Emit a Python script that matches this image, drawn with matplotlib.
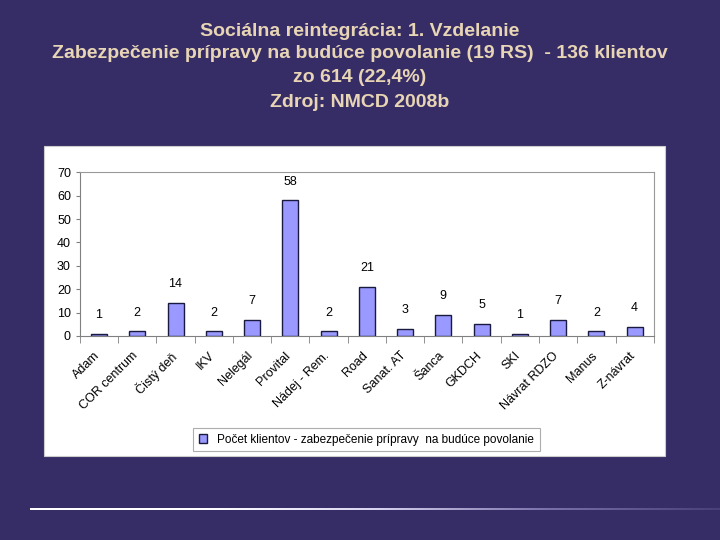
import numpy as np
import matplotlib
matplotlib.use("Agg")
import matplotlib.pyplot as plt
from matplotlib.patches import Rectangle
from matplotlib.colors import LinearSegmentedColormap
from matplotlib.transforms import ScaledTranslation

# data
centers = ["Adam", "COR centrum", "Čistý deň", "IKV", "Nelegál", "Provital",
           "Nádej - Rem.", "Road", "Sanat. AT", "Šanca", "GKDCH", "SKI",
           "Návrat RDZO", "Manus", "Z-návrat"]
clients = [1, 2, 14, 2, 7, 58, 2, 21, 3, 9, 5, 1, 7, 2, 4]
legend_label = "Počet klientov - zabezpečenie prípravy  na budúce povolanie"

title_lines = ["Sociálna reintegrácia: 1. Vzdelanie",
               "Zabezpečenie prípravy na budúce povolanie (19 RS)  - 136 klientov",
               "zo 614 (22,4%)",
               "Zdroj: NMCD 2008b"]

bg = "#372d66"
plt.rcParams['font.family'] = ['Liberation Sans', 'DejaVu Sans']

fig = plt.figure(figsize=(7.2, 5.4), dpi=100, facecolor=bg)

# white chart panel
fig.patches.append(Rectangle((0.061, 0.156), 0.862, 0.574, transform=fig.transFigure,
                             facecolor="white", edgecolor="#cccccc", lw=0.8, zorder=0))

# title lines
for txt, y in zip(title_lines, [0.941, 0.900, 0.856, 0.811]):
    fig.text(0.5, y, txt, ha="center", va="center", color="#e8d5b5",
             fontsize=14, fontweight="bold")

ax = fig.add_axes([0.111, 0.378, 0.797, 0.303], zorder=2)
ax.set_facecolor("white")
x = np.arange(len(centers))
bars = ax.bar(x, clients, width=0.42, color="#9999ff", edgecolor="#1a1a40",
              linewidth=1.0, label=legend_label)
for xi, v in zip(x, clients):
    ax.text(xi, v + 8, str(v), ha="center", va="center", fontsize=9)

ax.set_xlim(-0.5, len(centers) - 0.5)
ax.set_ylim(0, 70)
ax.set_yticks(range(0, 71, 10))
ax.tick_params(axis="y", labelsize=9, length=3, direction="out", color="#808080")
ax.set_xticks(x)
ax.set_xticklabels(centers, rotation=45, ha="right", rotation_mode="anchor",
                   fontsize=9, family=['Liberation Sans Narrow', 'Liberation Sans', 'DejaVu Sans'])
ax.tick_params(axis="x", length=0, pad=10)
shift = ScaledTranslation(-4 / 72, 0, fig.dpi_scale_trans)
for lab in ax.get_xticklabels():
    lab.set_transform(lab.get_transform() + shift)
# tick marks between categories
ax.set_xticks(np.arange(-0.5, len(centers), 1), minor=True)
ax.tick_params(axis="x", which="minor", length=5, color="#808080")
for s in ["top", "right"]:
    ax.spines[s].set_color("#999999")
for s in ["left", "bottom"]:
    ax.spines[s].set_color("#808080")

leg = fig.legend(loc="center", bbox_to_anchor=(0.509, 0.186), fontsize=8.5,
                 frameon=True, fancybox=False, edgecolor="#999999",
                 handlelength=0.7, handleheight=0.7, borderpad=0.5)
leg.get_frame().set_linewidth(0.8)

# fading rule at the bottom of the slide
rule = fig.add_axes([0.042, 0.055, 0.958, 0.005], zorder=2)
rule.axis("off")
cmap = LinearSegmentedColormap.from_list("fade", ["#ffffff", "#ffffff", "#d8d4f0", "#7a70aa", "#4a4078"])
rule.imshow(np.linspace(0, 1, 256)[None, :], aspect="auto", cmap=cmap)

fig.savefig("out.png", dpi=100, facecolor=bg)
